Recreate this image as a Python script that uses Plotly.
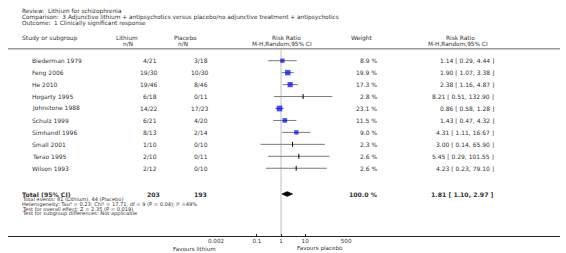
import plotly.graph_objects as go
import math

W, H = 566, 253

studies = ["Biederman 1979", "Feng 2006", "He 2010", "Hogarty 1995", "Johnstone 1988",
           "Schulz 1999", "Simhandl 1996", "Small 2001", "Terao 1995", "Wilson 1993"]
lith = ["4/21", "19/30", "19/46", "6/18", "14/22", "6/21", "8/13", "1/10", "2/10", "2/12"]
plac = ["3/18", "10/30", "8/46", "0/11", "17/23", "4/20", "2/14", "0/10", "0/11", "0/10"]
weight = [8.9, 19.9, 17.3, 2.8, 23.1, 11.5, 9.0, 2.3, 2.6, 2.6]
rr = [1.14, 1.90, 2.38, 8.21, 0.86, 1.43, 4.31, 3.00, 5.45, 4.23]
lo = [0.29, 1.07, 1.16, 0.51, 0.58, 0.47, 1.11, 0.14, 0.29, 0.23]
hi = [4.44, 3.38, 4.87, 132.90, 1.28, 4.32, 16.67, 65.90, 101.55, 79.10]
rr_text = ["1.14 [ 0.29, 4.44 ]", "1.90 [ 1.07, 3.38 ]", "2.38 [ 1.16, 4.87 ]",
           "8.21 [ 0.51, 132.90 ]", "0.86 [ 0.58, 1.28 ]", "1.43 [ 0.47, 4.32 ]",
           "4.31 [ 1.11, 16.67 ]", "3.00 [ 0.14, 65.90 ]", "5.45 [ 0.29, 101.55 ]",
           "4.23 [ 0.23, 79.10 ]"]
total_lith, total_plac = "203", "193"
total_rr, total_lo, total_hi = 1.81, 1.10, 2.97
tick_vals = [0.002, 0.1, 1, 10, 500]
tick_text = ["0.002", "0.1", "1", "10", "500"]

FONT = "DejaVu Sans"
TXT = "#333333"
AX_Y = 236.5
row_y = [60.7 + 11.95 * i for i in range(len(studies))]
tot_y = 194.0

fig = go.Figure()

def px(x):
    return x / W

def py(y):
    return 1 - y / H

def text(x, y, s, size=6.2, anchor="left", bold=False):
    if bold:
        s = "<b>" + s + "</b>"
    fig.add_annotation(x=px(x), y=py(y), xref="paper", yref="paper", text=s,
                       showarrow=False, xanchor=anchor, yanchor="middle",
                       borderpad=0, font=dict(family=FONT, size=size, color=TXT))

# line of no effect
fig.add_trace(go.Scatter(x=[1, 1], y=[49.5, AX_Y], mode="lines",
                         line=dict(color="#d4d4d4", width=1.5), hoverinfo="skip"))

# CI lines
for i in range(len(studies)):
    fig.add_trace(go.Scatter(x=[lo[i], hi[i]], y=[row_y[i], row_y[i]], mode="lines",
                             line=dict(color="#7a7a7a", width=1), hoverinfo="skip"))

# squares / ticks
big = [i for i in range(len(studies)) if weight[i] >= 5]
small = [i for i in range(len(studies)) if weight[i] < 5]
fig.add_trace(go.Scatter(x=[rr[i] for i in big], y=[row_y[i] for i in big], mode="markers",
                         marker=dict(symbol="square", color="#0000ff",
                                     size=[2.0 + 0.77 * math.sqrt(weight[i]) for i in big],
                                     line=dict(width=0))))
fig.add_trace(go.Scatter(x=[rr[i] for i in small], y=[row_y[i] for i in small], mode="markers",
                         marker=dict(symbol="line-ns", color="black", size=3.5,
                                     line=dict(width=1, color="black"))))

# diamond
fig.add_trace(go.Scatter(x=[total_lo, total_rr, total_hi, total_rr, total_lo],
                         y=[tot_y, tot_y - 2.3, tot_y, tot_y + 2.3, tot_y],
                         mode="lines", fill="toself", fillcolor="black",
                         line=dict(color="black", width=0.8)))

# header
text(13, 11.2, "Review:  Lithium for schizophrenia", 5.8)
text(13, 17.5, "Comparison:  3 Adjunctive lithium + antipsychotics versus placebo/no adjunctive treatment + antipsychotics", 5.8)
text(13, 23.8, "Outcome:  1 Clinically significant response", 5.8)

text(13, 38.3, "Study or subgroup", 6.0)
text(122.5, 38.0, "Lithium", 5.8, "center")
text(123, 43.8, "n/N", 5.8, "center")
text(181.5, 38.0, "Placebo", 5.8, "center")
text(179.5, 43.8, "n/N", 5.8, "center")
text(286, 38.0, "Risk Ratio", 5.8, "center")
text(281, 43.8, "M-H,Random,95% CI", 5.8, "center")
text(363, 38.3, "Weight", 6.0, "center")
text(464, 38.0, "Risk Ratio", 5.8, "center")
text(461.7, 43.8, "M-H,Random,95% CI", 5.8, "center")

# rows
for i in range(len(studies)):
    text(23.3, row_y[i], studies[i], 6.0)
    text(153.5, row_y[i], lith[i], 6.0, "right")
    text(206, row_y[i], plac[i], 6.0, "right")
    text(379.5, row_y[i], f"{weight[i]:.1f} %", 6.0, "right")
    text(499.5, row_y[i], rr_text[i], 6.0, "right")

# total
text(13, tot_y, "Total (95% CI)", 6.2, bold=True)
text(156.5, tot_y, total_lith, 6.2, "right", bold=True)
text(205.5, tot_y, total_plac, 6.2, "right", bold=True)
text(379.5, tot_y, "100.0 %", 6.2, "right", bold=True)
text(499.5, tot_y, f"{total_rr:.2f} [ {total_lo:.2f}, {total_hi:.2f} ]", 6.2, "right", bold=True)
text(13, 199.3, "Total events: 81 (Lithium), 44 (Placebo)", 5.1)
text(13, 204.0, "Heterogeneity: Tau² = 0.23; Chi² = 17.71, df = 9 (P = 0.04); I² =49%", 5.1)
text(13, 208.7, "Test for overall effect: Z = 2.35 (P = 0.019)", 5.1)
text(13, 213.4, "Test for subgroup differences: Not applicable", 5.1)

text(191, 248.6, "Favours lithium", 5.6, "center")
text(320, 248.6, "Favours placebo", 5.6, "center")

# full-width lines
fig.add_shape(type="line", xref="paper", yref="paper", x0=0, x1=1, y0=py(48.8), y1=py(48.8),
              line=dict(color="#9a9a9a", width=1.5))
fig.add_shape(type="line", xref="paper", yref="paper", x0=0, x1=1, y0=py(AX_Y), y1=py(AX_Y),
              line=dict(color="#222222", width=1))

fig.update_layout(
    width=W, height=H, margin=dict(l=0, r=0, t=0, b=0),
    paper_bgcolor="white", plot_bgcolor="rgba(0,0,0,0)", showlegend=False,
    xaxis=dict(type="log", range=[math.log10(0.002), math.log10(500)],
               domain=[213.3 / W, 346.7 / W], anchor="free", position=py(AX_Y),
               tickvals=tick_vals, ticktext=tick_text, ticks="inside", ticklen=3,
               tickcolor="#222222", showline=False, showgrid=False, zeroline=False,
               tickfont=dict(family=FONT, size=5.6, color=TXT)),
    yaxis=dict(range=[H, 0], domain=[0, 1], visible=False, showgrid=False, zeroline=False),
)

fig.write_html("out.html", config={"displayModeBar": False},
               post_script="document.body.style.margin='0px';")
